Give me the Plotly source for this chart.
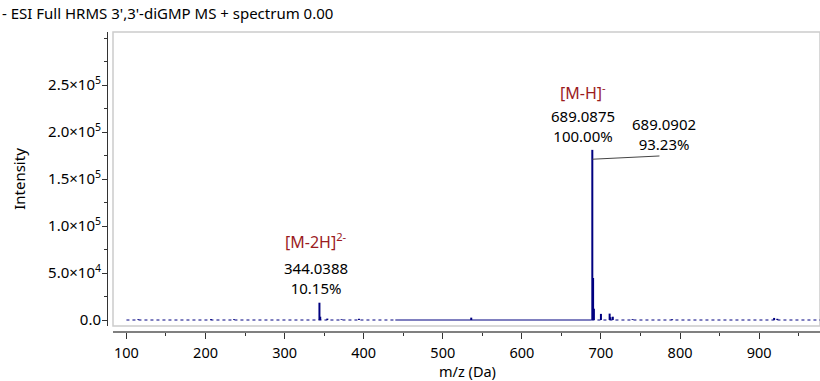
import plotly.graph_objects as go

# ---- data ----
peak_mz = [115.0, 207.0, 236.0, 344.0388, 345.04, 354.0, 372.0, 394.0, 536.0,
           689.0875, 690.09, 691.09, 700.0, 711.0, 712.0, 715.0, 740.0, 790.0, 919.0, 923.0]
peak_int = [800, 900, 900, 18400, 3500, 1500, 800, 1300, 2500,
            181000, 44700, 12000, 6500, 6800, 3000, 3500, 900, 800, 2200, 1300]
baseline_start = [100, 440, 688]
baseline_end = [440, 688, 977]
baseline_dash = ["dot", "solid", "dot"]

y_tickvals = [0, 50000, 100000, 150000, 200000, 250000]
y_ticktext = ["0.0", "5.0×10<sup>4</sup>", "1.0×10<sup>5</sup>", "1.5×10<sup>5</sup>",
              "2.0×10<sup>5</sup>", "2.5×10<sup>5</sup>"]
x_tickvals = [100, 200, 300, 400, 500, 600, 700, 800, 900]
x_ticktext = [str(v) for v in x_tickvals]

title_text = "- ESI Full HRMS 3',3'-diGMP MS + spectrum 0.00"
x_title = "m/z (Da)"
ion_labels = ["[M-2H]<sup>2-</sup>", "[M-H]<sup>-</sup>"]
ion_mz = [344.0388, 689.0875]
ion_int = [18400, 181000]
ion_pct = ["10.15%", "100.00%"]
second_mz = 689.0902
second_pct = "93.23%"

NAVY = "#000080"
RED = "#9B1B1E"
FONT = "Noto Sans"

fig = go.Figure()

# baseline segments
for s, e, d in zip(baseline_start, baseline_end, baseline_dash):
    fig.add_trace(go.Scatter(x=[s, e], y=[0, 0], mode="lines",
                             line=dict(color=NAVY, width=1, dash=d),
                             hoverinfo="skip", showlegend=False,
                             xaxis="x", yaxis="y"))

# peaks as sticks
xs, ys = [], []
for m, h in zip(peak_mz, peak_int):
    xs += [m, m, None]
    ys += [0, h, None]
fig.add_trace(go.Scatter(x=xs, y=ys, mode="lines", line=dict(color=NAVY, width=2),
                         showlegend=False, xaxis="x", yaxis="y"))

XR = [83, 977]
YR = [-6383, 306383]

fig.update_layout(
    width=820, height=381,
    margin=dict(l=107, r=0, t=32, b=49),
    paper_bgcolor="white", plot_bgcolor="white",
    font=dict(family=FONT, size=15, color="black"),
    showlegend=False,
    xaxis=dict(domain=[6 / 713, 1], range=XR, anchor="free", position=0,
               tickvals=x_tickvals, ticktext=x_ticktext,
               ticks="outside", ticklen=6, tickcolor="#333", tickwidth=1,
               showline=True, linecolor="#808080", linewidth=2,
               showgrid=False, zeroline=False,
               minor=dict(dtick=50, tick0=0, ticks="outside", ticklen=3, tickcolor="#333"),
               tickfont=dict(size=14.5), ticklabelstandoff=2),
    yaxis=dict(domain=[6 / 300, 1], range=YR, anchor="free", position=0,
               tickvals=y_tickvals, ticktext=y_ticktext,
               ticks="outside", ticklen=5, tickcolor="#333",
               showline=True, linecolor="#333", linewidth=1,
               showgrid=False, zeroline=False,
               minor=dict(dtick=25000, tick0=0, ticks="outside", ticklen=3, tickcolor="#333"),
               tickfont=dict(size=15), ticklabelstandoff=-2,
               title=dict(text="Intensity", font=dict(size=15), standoff=17)),
)

# plot frame
fig.add_shape(type="rect", xref="x domain", yref="y domain", x0=0, x1=1, y0=0, y1=1,
              line=dict(color="#cccccc", width=1.5), layer="below")

# title
fig.add_annotation(text=title_text, xref="paper", yref="paper", x=-107 / 713, y=1,
                   xanchor="left", yanchor="bottom", yshift=7, showarrow=False,
                   font=dict(size=15))

# x axis title
fig.add_annotation(text=x_title, xref="paper", yref="paper", x=(467 - 107) / 713, y=0,
                   xanchor="center", yanchor="middle", yshift=-39, showarrow=False,
                   font=dict(size=14.5))

# ion labels
for lab, m, h, p, dx, dy_val, dy_lab in zip(ion_labels, ion_mz, ion_int, ion_pct,
                                            [-3, -9], [3, 2], [45, 42]):
    fig.add_annotation(text=f"{m:.4f}<br>{p}", x=m, y=h, xref="x", yref="y",
                       xanchor="center", yanchor="bottom", xshift=dx, yshift=dy_val,
                       showarrow=False, font=dict(size=15), align="center")
    fig.add_annotation(text=lab, x=m, y=h, xref="x", yref="y",
                       xanchor="center", yanchor="bottom", xshift=dx, yshift=dy_val + dy_lab,
                       showarrow=False, font=dict(size=16, color=RED))

# second label with leader line
lab2_mz = 780
lab2_y = 174500
fig.add_annotation(text=f"{second_mz:.4f}<br>{second_pct}", x=lab2_mz, y=lab2_y,
                   xref="x", yref="y", xanchor="center", yanchor="bottom", yshift=0,
                   showarrow=False, font=dict(size=15), align="center")
fig.add_shape(type="line", xref="x", yref="y", x0=ion_mz[1], y0=ion_int[1] * 0.945,
              x1=lab2_mz - 6, y1=lab2_y, line=dict(color="#444", width=1))

fig.write_html("out.html")
